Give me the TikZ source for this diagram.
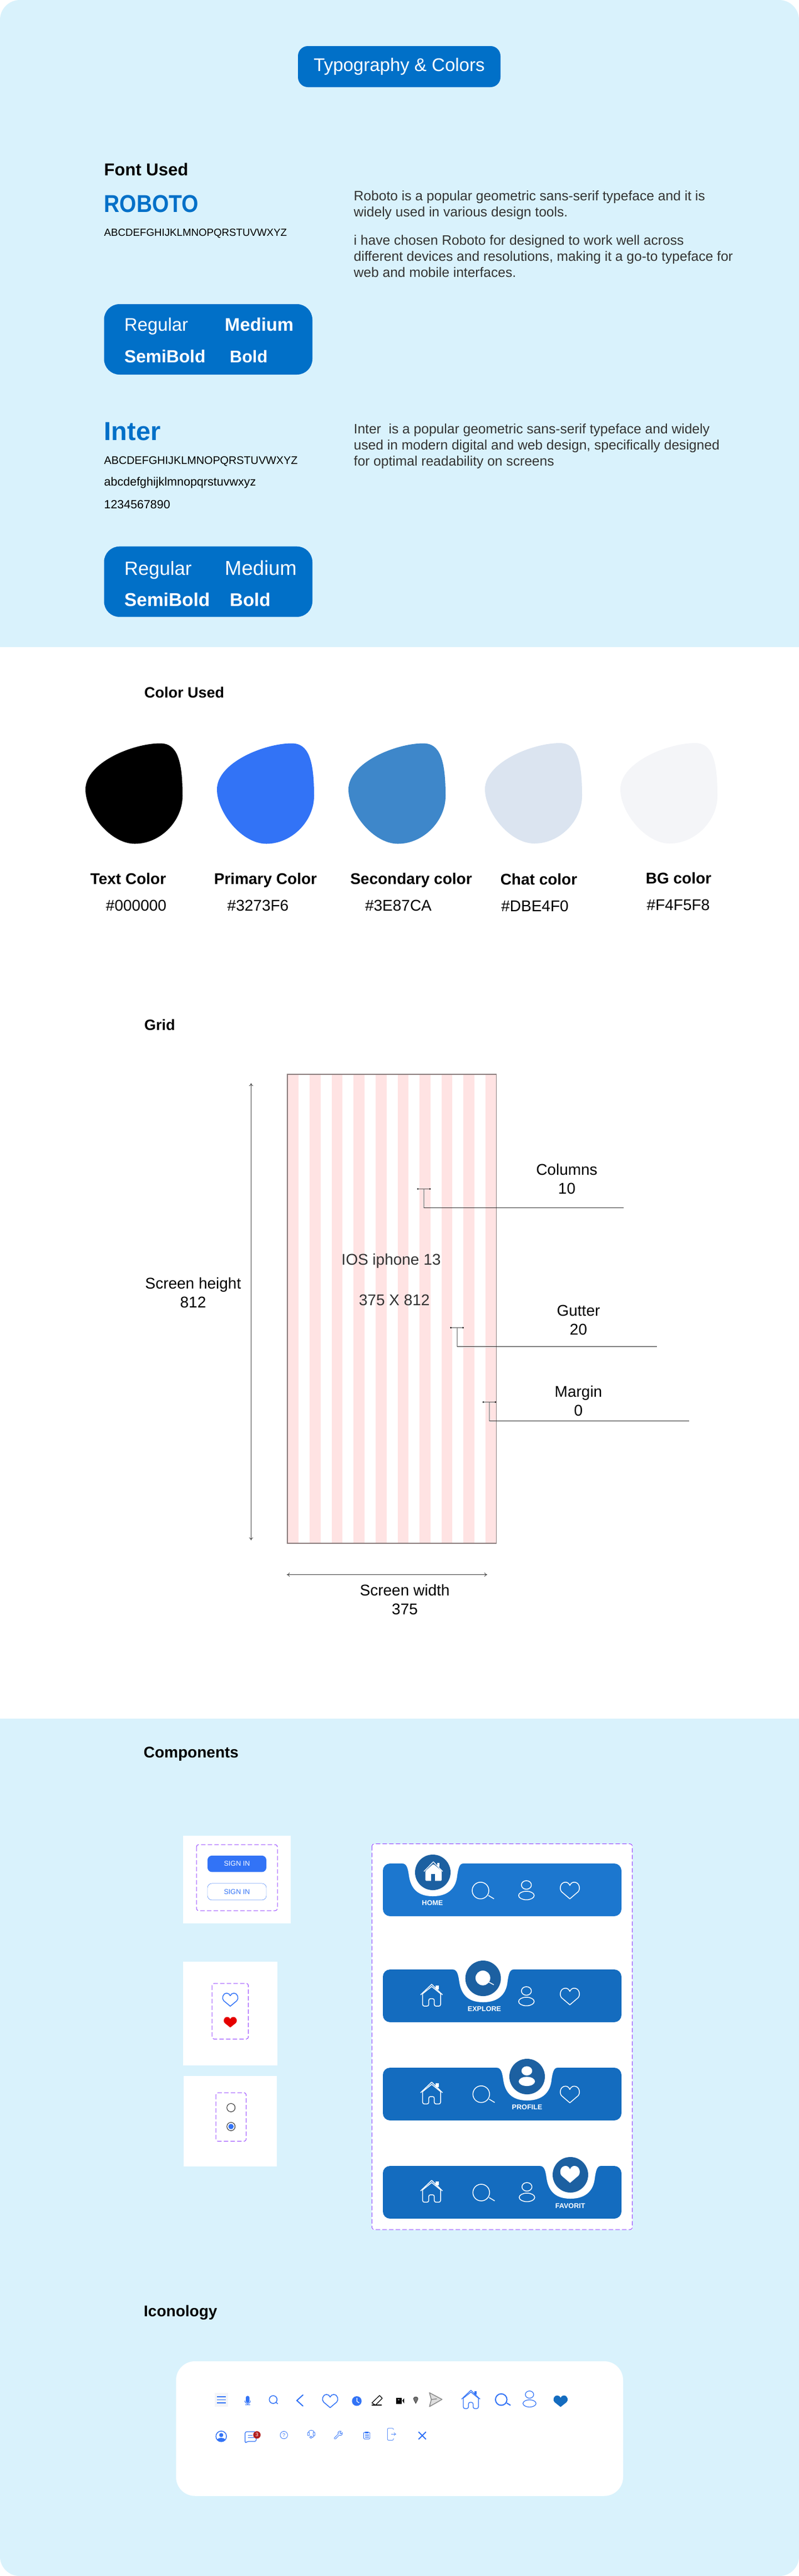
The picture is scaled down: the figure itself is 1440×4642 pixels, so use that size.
\documentclass[tikz,border=0pt]{standalone}
\usepackage{fontspec}
\usepackage{graphicx}
\setmainfont{Liberation Sans}
\usetikzlibrary{arrows.meta}
\newcommand{\fs}[2][1.2]{\fontsize{#2}{#1\dimexpr#2pt\relax}\selectfont}
\definecolor{panelblue}{HTML}{D9F2FC}
\definecolor{pillblue}{HTML}{0170C8}
\definecolor{primaryblue}{HTML}{3273F6}
\definecolor{secondblue}{HTML}{3E87CA}
\definecolor{chatcolor}{HTML}{DBE4F0}
\definecolor{bgcolor}{HTML}{F4F5F8}
\definecolor{stripepink}{HTML}{FFE3E3}
\definecolor{framegray}{HTML}{8A7C7C}
\definecolor{dashpurple}{HTML}{9747FF}
\definecolor{barlight}{HTML}{1C77CF}
\definecolor{barblue}{HTML}{146CBF}
\definecolor{navcircle}{HTML}{1C60A1}
\definecolor{badgered}{HTML}{B21F1F}

\begin{document}
\begin{tikzpicture}[
        x=1pt, y=-1pt,
        pill/.style={rectangle, fill=pillblue, rounded corners=18pt, minimum width=365pt, minimum height=74pt, text=white, font=\fs{33}},
        weightbox/.style={rectangle, fill=pillblue, rounded corners=28pt, minimum width=375.5pt, minimum height=127pt},
        plain/.style={anchor=west, inner sep=0pt},
        weight/.style={anchor=base west, inner sep=0pt, text=white},
        heading/.style={anchor=base west, inner sep=0pt, font=\bfseries\fs{28}},
        descr/.style={plain, align=left, text=black!80, font=\fs[1.18]{24.6}},
        swatch/.style={anchor=base, inner sep=0pt, font=\bfseries\fs{28}},
        hexcode/.style={anchor=base, inner sep=0pt, font=\fs{28}},
        gridlabel/.style={inner sep=0pt, align=center, font=\fs[1.214]{28}},
        dimline/.style={{To[length=5pt,width=7pt]}-{To[length=5pt,width=7pt]}, black!75, line width=.8pt},
        leader/.style={black!85, line width=.8pt},
        dashbox/.style={draw=dashpurple, line width=1pt, dash pattern=on 8pt off 4pt, rounded corners=4pt},
        signfill/.style={rectangle, fill=primaryblue, rounded corners=8pt, minimum width=106pt, minimum height=29.5pt, text=white, font=\fs{12.6}},
        signline/.style={rectangle, draw=primaryblue, rounded corners=8pt, minimum width=106pt, minimum height=30pt, text=primaryblue, font=\fs{12.6}},
        navlabel/.style={inner sep=0pt, text=white, font=\bfseries\fs{12.6}},
        navicon/.style={white, line width=1.5pt},
        iconline/.style={primaryblue, line width=1.5pt},
        blobshape/.pic={
            \fill (0,83) .. controls (0,35) and (85,0) .. (135,0) .. controls (165,0) and (175,30) .. (175,95)
                  .. controls (175,140) and (135,181) .. (89,181) .. controls (45,181) and (0,125) .. (0,83) -- cycle;
        },
        heartline/.pic={
            \draw[line join=round] (0,.5) -- (-.42,.08) .. controls (-.56,-.08) and (-.5,-.5) .. (-.22,-.5) .. controls (-.12,-.5) and (-.04,-.42) .. (0,-.3)
                  .. controls (.04,-.42) and (.12,-.5) .. (.22,-.5) .. controls (.5,-.5) and (.56,-.08) .. (.42,.08) -- cycle;
        },
        heartfill/.pic={
            \fill (0,.5) -- (-.42,.08) .. controls (-.56,-.08) and (-.5,-.5) .. (-.22,-.5) .. controls (-.12,-.5) and (-.04,-.42) .. (0,-.3)
                  .. controls (.04,-.42) and (.12,-.5) .. (.22,-.5) .. controls (.5,-.5) and (.56,-.08) .. (.42,.08) -- cycle;
        },
        homeline/.pic={
            \draw[line join=round] (-20,-1) -- (0,-20) -- (19.5,-1);
            \draw[line join=round] (-16.3,-3) -- (0,-16) -- (16,-3);
            \fill (7,-18) rectangle (12.7,-11);
            \draw[rounded corners=3pt] (-16.3,-3) -- (-16.3,19.3) -- (-5.3,19.3) -- (-5.3,6) -- (4.7,6) -- (4.7,19.3) -- (16,19.3) -- (16,-3);
        },
        homesolid/.pic={
            \draw[line join=round, line width=1.3pt] (-17,0) -- (0,-17.3) -- (16.7,0);
            \fill (6.7,-15.7) rectangle (11.3,-8);
            \fill[rounded corners=1.5pt] (-14.3,-1) -- (0,-13.5) -- (15,-1) -- (15,17) -- (-14.3,17) -- cycle;
            \fill[navcircle] (-3.7,5) rectangle (3.3,17.5);
        },
        searchline/.pic={
            \draw (0,0) circle[radius=15];
            \draw (14.3,9) -- (24.3,15);
        },
        searchsolid/.pic={
            \fill (0,0) circle[radius=13.3];
            \draw (10,7) -- (19.7,12.3);
        },
        personline/.pic={
            \draw (0,-9.5) ellipse[x radius=9, y radius=7.7];
            \draw (0,9.5) ellipse[x radius=14, y radius=7.7];
        },
        personsolid/.pic={
            \fill (0,-9.5) ellipse[x radius=9.7, y radius=8.3];
            \fill (0,9.5) ellipse[x radius=14.7, y radius=8.3];
        }
      ]
        \useasboundingbox (0,0) rectangle (1440,4642);
        \fill[white] (0,0) rectangle (1440,4642);

        \fill[panelblue] (0,1166) -- (0,36) .. controls (0,16) and (16,0) .. (36,0) -- (1404,0) .. controls (1424,0) and (1440,16) .. (1440,36) -- (1440,1166) -- cycle;
        \fill[panelblue] (0,3097) -- (1440,3097) -- (1440,4607) .. controls (1440,4626) and (1424,4642) .. (1405,4642) -- (35,4642) .. controls (16,4642) and (0,4626) .. (0,4607) -- cycle;

        \node[pill]  (title)  at (719.5,120)  {Typography \& Colors};

        \node[heading, font=\bfseries\fs{31}]  (fontused)  at (187.5,316)  {Font Used};
        \node[plain, text=pillblue, font=\bfseries\fs{44}]  (roboto)  at (187.5,367)  {\scalebox{.886}[1]{ROBOTO}};
        \node[plain, font=\fs{18.7}]  (robotocaps)  at (187.5,421)  {ABCDEFGHIJKLMNOPQRSTUVWXYZ};
        \node[descr]  (robotoone)  at (637.5,370)  {Roboto is a popular geometric sans-serif typeface and it is\\widely used in various design tools.};
        \node[descr]  (robototwo)  at (637.5,461.5)  {i have chosen Roboto for designed to work well across\\different devices and resolutions, making it a go-to typeface for\\web and mobile interfaces.};

        \node[weightbox]  (robotobox)  at (375.25,611.5)  {};
        \node[weight, font=\fs{32.8}]  (regularone)  at (224,596.5)  {Regular};
        \node[weight, font=\bfseries\fs{32.8}]  (mediumone)  at (405,596.5)  {Medium};
        \node[weight, font=\bfseries\fs{31.7}]  (semione)  at (224,653.5)  {SemiBold};
        \node[weight, font=\bfseries\fs{30.6}]  (boldone)  at (414,653.5)  {Bold};

        \node[plain, text=pillblue, font=\bfseries\fs{47}]  (inter)  at (187.5,777.7)  {Inter};
        \node[plain, font=\fs{19.8}]  (intercaps)  at (187.5,831)  {ABCDEFGHIJKLMNOPQRSTUVWXYZ};
        \node[plain, font=\fs{21.5}]  (interlower)  at (187.5,870)  {abcdefghijklmnopqrstuvwxyz};
        \node[plain, font=\fs{21.4}]  (interdigits)  at (187.5,908.7)  {1234567890};
        \node[descr]  (interone)  at (637.5,804)  {Inter\ \ is a popular geometric sans-serif typeface and widely\\used in modern digital and web design, specifically designed\\for optimal readability on screens};

        \node[weightbox]  (interbox)  at (375.25,1048.2)  {};
        \node[weight, font=\fs{34.6}]  (regulartwo)  at (224,1036)  {Regular};
        \node[weight, font=\fs{36.4}]  (mediumtwo)  at (405,1036)  {Medium};
        \node[weight, font=\bfseries\fs{33.4}]  (semitwo)  at (224,1092)  {SemiBold};
        \node[weight, font=\bfseries\fs{33}]  (boldtwo)  at (414,1092)  {Bold};

        \node[heading, font=\bfseries\fs{27}]  (colorused)  at (260,1257)  {Color Used};
        \foreach \bx/\by/\bcol in {154/1339.5/black, 391/1339.5/primaryblue, 628/1339.5/secondblue, 874/1339/chatcolor, 1118/1339/bgcolor}
            \pic[\bcol] at (\bx,\by) {blobshape};

        \node[swatch]  (textcolor)  at (231,1593.6)    {Text Color};
        \node[swatch]  (primcolor)  at (478.5,1593.6)  {Primary Color};
        \node[swatch]  (seccolor)   at (741,1593.6)    {Secondary color};
        \node[swatch]  (chatlabel)  at (971,1594.8)    {Chat color};
        \node[swatch]  (bglabel)    at (1223,1592)     {BG color};
        \node[hexcode]  (hexblack)  at (245.5,1641.5)  {\#000000};
        \node[hexcode]  (hexprim)   at (465,1641.5)    {\#3273F6};
        \node[hexcode]  (hexsec)    at (718,1641.5)    {\#3E87CA};
        \node[hexcode]  (hexchat)   at (964,1642.6)    {\#DBE4F0};
        \node[hexcode]  (hexbg)     at (1222.5,1640.7) {\#F4F5F8};

        \node[heading, font=\bfseries\fs{27}]  (gridhead)  at (260,1856.5)  {Grid};
        \foreach \k in {0,...,9}
            \fill[stripepink] (518.5+39.6*\k,1936) rectangle ++(19.6,845);
        \draw[framegray, line width=1.5pt] (518,1936) rectangle (894.5,2781);

        \coordinate (heighttop) at (452.5,1952);
        \coordinate (heightbot) at (452.5,2775.5);
        \coordinate (widthleft) at (517,2837.5);
        \coordinate (widthright) at (878,2837.5);
        \draw[dimline] (heighttop) -- (heightbot);
        \draw[dimline] (widthleft) -- (widthright);

        \node[gridlabel]  (screenheight)  at (348,2329)    {Screen height\\812};
        \node[gridlabel]  (screenwidth)   at (729.6,2882)  {Screen width\\375};
        \node[gridlabel]  (columns)       at (1021.5,2124) {Columns\\10};
        \node[gridlabel]  (gutter)        at (1042.5,2379) {Gutter\\20};
        \node[gridlabel]  (margin)        at (1042.5,2524) {Margin\\0};
        \node[gridlabel, text=black!80]  (iosname)  at (705,2272)     {IOS iphone 13};
        \node[gridlabel, text=black!80]  (iossize)  at (710.7,2342.7) {375 X 812};

        \foreach \sx/\stop/\sline/\send in {764/2142.5/2176.5/1124, 823.6/2392.5/2426.5/1184, 881.9/2526.5/2560.5/1241.7} {
            \coordinate (stemtop) at (\sx,\stop);
            \coordinate (stembot) at (\sx,\sline);
            \coordinate (lineend) at (\send,\sline);
            \draw[black!35, line width=2.2pt] (stemtop) -- (stembot);
            \draw[leader] (stembot) -- (lineend);
            \draw[black!70, line width=.8pt] ([xshift=-11pt]stemtop) -- ([xshift=11pt]stemtop);
            \fill[black] ([xshift=-11pt]stemtop) circle[radius=1.4];
            \fill[black] ([xshift=11pt]stemtop) circle[radius=1.4];
        }

        \node[heading]  (components)  at (258.7,3167.7)  {Components};

        \fill[white] (330,3308) rectangle (524,3465.7);
        \draw[dashbox] (354,3324) rectangle (500,3443);
        \node[signfill]  (signone)  at (427,3358.6)  {SIGN IN};
        \node[signline]  (signtwo)  at (427,3408.9)  {SIGN IN};

        \fill[white] (330,3535) rectangle (500,3722);
        \draw[dashbox] (382,3574) rectangle (447.7,3674.4);
        \pic[primaryblue, line width=1.5pt, xscale=28, yscale=23.5] at (415,3603.5) {heartline};
        \pic[red!90!black, xscale=24, yscale=19] at (415,3644) {heartfill};

        \fill[white] (331,3741) rectangle (499,3904);
        \draw[dashbox] (389,3771) rectangle (443.7,3858.6);
        \draw[black, line width=.8pt] (416.3,3798) circle[radius=7.5];
        \draw[black, line width=.8pt] (416.3,3832) circle[radius=7.5];
        \fill[primaryblue] (416.3,3832) circle[radius=4.8];

        \fill[white] (670.3,3322.7) rectangle (1139.7,4017.7);
        \draw[dashbox] (670.3,3322.7) rectangle (1139.7,4017.7);
        \foreach \bartop/\notch/\barcol in {3358/780/barlight, 3549/870.7/barblue, 3726/950/barblue, 3903/1028/barblue} {
            \fill[\barcol, rounded corners=13pt] (690,\bartop) rectangle ++(430,95);
            \begin{scope}[shift={(\notch,\bartop)}]
                \fill[white] (-55,-1) -- (-55,0) .. controls (-47,0) and (-45,8) .. (-43,22) .. controls (-40,42) and (-30,59) .. (0,59)
                      .. controls (30,59) and (42,42) .. (44,22) .. controls (46,8) and (48,0) .. (55,0) -- (55,-1) -- cycle;
                \fill[navcircle] (0,16) circle[radius=32];
            \end{scope}
        }

        \pic[white] at (781,3372.3) {homesolid};
        \pic[navicon] at (866,3406.7) {searchline};
        \pic[navicon] at (948.7,3406.2) {personline};
        \pic[navicon, xscale=35, yscale=30] at (1027,3406.7) {heartline};
        \node[navlabel]  (homelabel)  at (779.3,3429.3)  {HOME};

        \pic[navicon] at (778,3595.7) {homeline};
        \pic[navicon] at (870.3,3564.3) {searchsolid};
        \pic[navicon] at (948.7,3597.2) {personline};
        \pic[navicon, xscale=35, yscale=30] at (1027,3597.7) {heartline};
        \node[navlabel]  (explorelabel)  at (873,3619.7)  {EXPLORE};

        \pic[navicon] at (778,3772) {homeline};
        \pic[navicon] at (867.3,3773.7) {searchline};
        \pic[white] at (949.5,3741.2) {personsolid};
        \pic[navicon, xscale=35, yscale=30] at (1027,3774.3) {heartline};
        \node[navlabel]  (profilelabel)  at (950,3796.7)  {PROFILE};

        \pic[navicon] at (778,3949) {homeline};
        \pic[navicon] at (867.3,3951) {searchline};
        \pic[navicon] at (949.7,3950.2) {personline};
        \pic[white, xscale=35.7, yscale=30.7] at (1027.3,3918.3) {heartfill};
        \node[navlabel]  (favoritlabel)  at (1027.7,3974.7)  {FAVORIT};

        \node[heading]  (iconology)  at (259,4174)  {Iconology};

        \fill[white, rounded corners=34pt] (317.3,4255) rectangle (1123,4497.7);

        \fill[bgcolor] (387.3,4312.3) rectangle (410.7,4336.7);
        \foreach \my in {4319,4324.3,4329.7}
            \draw[iconline, line width=1.7pt] (391,\my) -- (407,\my);

        \fill[primaryblue, rounded corners=3.3pt] (443,4317.3) rectangle (449.6,4330);
        \draw[iconline, line width=1pt] (441.3,4326) .. controls (441.3,4333) and (451.3,4333) .. (451.3,4326);
        \draw[iconline, line width=1pt] (446.3,4331) -- (446.3,4333);
        \draw[iconline, line width=1pt] (442,4333.3) -- (450.6,4333.3);

        \draw[iconline] (492.3,4324) circle[radius=7];
        \draw[iconline] (497.5,4329) -- (500.7,4331.7);

        \draw[iconline, line width=2pt, line cap=round, line join=round] (546,4315.7) -- (535,4325.7) -- (546,4335.7);
        \pic[iconline, xscale=28, yscale=23.7] at (595,4326.7) {heartline};

        \fill[primaryblue] (643,4326.7) circle[radius=8.7];
        \draw[white, line width=1.2pt] (643.3,4321) -- (643.3,4327.3) -- (647.3,4330);

        \draw[black, line width=1.2pt] (670.3,4334) -- (688.3,4334);
        \draw[black, line width=1.2pt, line join=round] (676.7,4334) -- (670.3,4330) -- (684,4316.7) -- (689,4321.7) -- (676.7,4334);

        \fill[black] (714.3,4321) rectangle (724.3,4331.7);
        \draw[white, line width=.8pt] (717,4324) -- (720,4324);
        \fill[black] (725,4326) -- (728.3,4321.7) -- (728.3,4331) -- cycle;

        \filldraw[fill=black!55, draw=black!85, line width=.6pt] (749.3,4331) .. controls (747,4326) and (745.3,4324.5) .. (745.3,4322.5) .. controls (745.3,4318) and (753.3,4318) .. (753.3,4322.5) .. controls (753.3,4324.5) and (751.6,4326) .. (749.3,4331) -- cycle;

        \filldraw[fill=black!13, draw=black!45, line width=1.5pt, line join=round] (774,4311.7) -- (796.7,4323.7) -- (774,4336.7) -- (777.3,4324) -- cycle;
        \draw[black!45, line width=1.5pt] (777.3,4324) -- (787.3,4322.7);

        \pic[iconline, line width=1.3pt, scale=.84] at (848.7,4324) {homeline};
        \pic[iconline, line width=2pt, scale=.69] at (903.3,4324) {searchline};
        \pic[iconline, line width=1.2pt, scale=.84] at (954.3,4323) {personline};
        \pic[barblue, xscale=26, yscale=20.7] at (1010.3,4327) {heartfill};

        \draw[iconline] (398.7,4390.3) circle[radius=9.5];
        \fill[primaryblue] (398.7,4388) circle[radius=3.7];
        \fill[primaryblue] (391.5,4396) .. controls (393,4392) and (404,4392) .. (406,4396) .. controls (403,4401) and (394,4401) .. (391.5,4396) -- cycle;

        \draw[iconline, line width=1.2pt, rounded corners=3pt] (441.7,4402.7) -- (441.7,4382) -- (461.7,4382) -- (461.7,4399.5) -- (445.5,4399.5) -- cycle;
        \draw[iconline, line width=1.2pt] (446.7,4388.3) -- (455,4388.3);
        \draw[iconline, line width=1.2pt] (446.7,4392.7) -- (458.3,4392.7);
        \node[circle, fill=badgered, text=white, minimum size=13.4pt, inner sep=0pt, font=\fs{9}]  (badge)  at (463,4387.7)  {3};

        \node[circle, draw=primaryblue, text=primaryblue, line width=.8pt, minimum size=13.4pt, inner sep=0pt, font=\fs{9}]  (help)  at (511.7,4388)  {?};

        \draw[iconline, line width=.8pt] (556,4384) .. controls (556,4377.5) and (566,4377.5) .. (566,4384);
        \draw[iconline, line width=.8pt, rounded corners=1pt] (554.3,4383) rectangle (557.7,4389);
        \draw[iconline, line width=.8pt, rounded corners=1pt] (564.3,4383) rectangle (567.7,4389);
        \draw[iconline, line width=.8pt] (566,4389) .. controls (566,4392) and (564,4392) .. (562,4392);
        \draw[iconline, line width=.8pt, rounded corners=1pt] (558.5,4390.5) rectangle (562.5,4393.3);

        \draw[iconline, line width=.8pt, line join=round] (602.7,4393) -- (609.5,4386) .. controls (608,4382) and (612,4380) .. (615,4381) -- (612.5,4384) -- (614.5,4386) -- (617,4383.5) .. controls (618,4387) and (615,4390) .. (611.5,4388) -- (604.7,4395) .. controls (603.5,4396) and (601.5,4394.5) .. (602.7,4393) -- cycle;

        \draw[iconline, line width=.9pt, rounded corners=1.5pt] (655.3,4383) rectangle (666.7,4395);
        \fill[primaryblue] (658,4381.7) rectangle (664,4384.5);
        \foreach \my in {4387,4389.5,4392}
            \draw[iconline, line width=.7pt] (657.5,\my) -- (664.5,\my);

        \draw[primaryblue!75, line width=1pt, rounded corners=2pt] (709,4378.3) -- (709,4375.7) -- (698.3,4375.7) -- (698.3,4397.3) -- (709,4397.3) -- (709,4394);
        \draw[{To[length=4pt,width=6pt]}-, primaryblue!85, line width=.7pt] (714,4386.3) -- (705,4386.3);

        \draw[iconline, line width=2pt] (754.3,4382.3) -- (767.7,4395.7);
        \draw[iconline, line width=2pt] (767.7,4382.3) -- (754.3,4395.7);
      \end{tikzpicture}
\end{document}
